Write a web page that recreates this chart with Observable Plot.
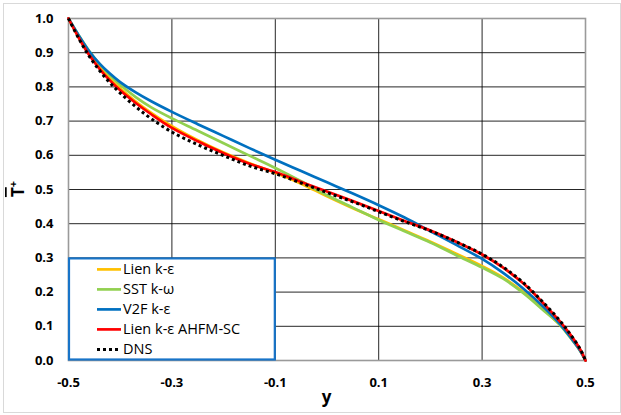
<!DOCTYPE html>
<html><head><meta charset="utf-8">
<script src="https://cdn.jsdelivr.net/npm/d3@7"></script>
<script src="https://cdn.jsdelivr.net/npm/@observablehq/plot@0.6"></script>
<style>
body{margin:0;background:#fff;}
#chart{position:relative;width:621px;height:415px;}
</style>
</head><body><div id="chart"></div>
<script>
// wall-normal position y
const yPos = [-0.5,-0.48,-0.46,-0.44,-0.42,-0.4,-0.37,-0.34,-0.3,-0.25,-0.2,-0.15,-0.1,-0.05,0,0.05,0.1,0.15,0.2,0.25,0.3,0.34,0.38,0.42,0.45,0.47,0.49,0.5];
// mean temperature T+ per model
const lienKE   = [1.0,0.945,0.898,0.858,0.824,0.796,0.757,0.724,0.685,0.644,0.608,0.577,0.549,0.517,0.480,0.445,0.413,0.380,0.347,0.312,0.276,0.243,0.200,0.148,0.105,0.070,0.028,0.0];
const sstKW    = [1.0,0.950,0.905,0.867,0.834,0.806,0.770,0.740,0.708,0.672,0.635,0.599,0.563,0.524,0.483,0.447,0.411,0.378,0.345,0.308,0.272,0.240,0.197,0.145,0.105,0.068,0.028,0.0];
const v2fKE    = [1.0,0.950,0.904,0.868,0.839,0.814,0.784,0.758,0.727,0.691,0.656,0.621,0.587,0.554,0.521,0.488,0.454,0.418,0.378,0.338,0.297,0.257,0.210,0.155,0.108,0.070,0.028,0.0];
const lienAHFM = [1.0,0.943,0.893,0.853,0.819,0.790,0.753,0.720,0.680,0.641,0.606,0.575,0.551,0.522,0.494,0.466,0.437,0.408,0.380,0.347,0.310,0.272,0.225,0.165,0.115,0.077,0.032,0.0];
const dns      = [1.0,0.941,0.890,0.848,0.812,0.782,0.742,0.707,0.668,0.631,0.599,0.569,0.546,0.519,0.491,0.464,0.435,0.406,0.379,0.347,0.311,0.274,0.227,0.167,0.117,0.078,0.033,0.0];

const seriesNames  = ["Lien k-ε","SST k-ω","V2F k-ε","Lien k-ε AHFM-SC","DNS"];
const seriesValues = [lienKE, sstKW, v2fKE, lienAHFM, dns];
const seriesColors = ["#FFC000","#92D050","#0070C0","#FF0000","#000000"];

const xTicks = [-0.5,-0.3,-0.1,0.1,0.3,0.5];
const yTicks = [0,0.1,0.2,0.3,0.4,0.5,0.6,0.7,0.8,0.9,1.0];

const rows = seriesNames.map((name,i)=>yPos.map((y,j)=>({y, T: seriesValues[i][j], series:name})));

const fmt = d => d.toFixed(1);

const lineMarks = rows.map((r,i)=> i===4
  ? Plot.line(r,{x:"y",y:"T",stroke:seriesColors[i],strokeWidth:3,strokeDasharray:"3,3",strokeLinecap:"butt",curve:"catmull-rom"})
  : Plot.line(r,{x:"y",y:"T",stroke:seriesColors[i],strokeWidth:2.7,curve:"catmull-rom"}));

const chart = Plot.plot({
  width:621, height:415,
  marginLeft:68, marginRight:36, marginTop:18, marginBottom:55,
  style:{fontFamily:"'Open Sans', sans-serif", fontSize:"13px", fontWeight:"bold", color:"#000", background:"transparent"},
  x:{domain:[-0.5,0.5]},
  y:{domain:[0,1]},
  marks:[
    Plot.gridX(xTicks.slice(1,-1),{stroke:"#000",strokeOpacity:0.85,strokeWidth:1}),
    Plot.gridY(yTicks.slice(1,-1),{stroke:"#000",strokeOpacity:0.85,strokeWidth:1}),
    Plot.frame({stroke:"#9a9a9a",strokeWidth:1.6}),
    Plot.axisX(xTicks,{tickSize:0,tickPadding:17,tickFormat:fmt,label:null,fill:"#000"}),
    Plot.axisY(yTicks,{tickSize:0,tickPadding:15,tickFormat:fmt,label:null,fill:"#000"}),
    ...lineMarks
  ]
});
document.getElementById("chart").appendChild(chart);

const svg = d3.select(chart);
const sx = chart.scale("x"), sy = chart.scale("y");

// outer chart border
svg.insert("rect",":first-child").attr("x",3.5).attr("y",3.5).attr("width",617).attr("height",409)
  .attr("fill","none").attr("stroke","#d9d9d9").attr("stroke-width",1);

// axis titles
svg.append("text").attr("x",(sx.apply(-0.5)+sx.apply(0.5))/2).attr("y",403)
  .attr("text-anchor","middle").style("font","bold 17px 'Open Sans', sans-serif").attr("fill","#000").text("y");
const yt = svg.append("text").attr("transform",`translate(24,${(sy.apply(0)+sy.apply(1))/2}) rotate(-90)`)
  .attr("text-anchor","middle").style("font","bold 17px 'Open Sans', sans-serif").attr("fill","#000");
yt.append("tspan").style("text-decoration","overline").text("T");
yt.append("tspan").attr("baseline-shift","super").style("font-size","11px").text("+");

// legend box (aligned to the grid)
const lx0 = sx.apply(-0.5), lx1 = sx.apply(-0.1), ly0 = sy.apply(0.3), ly1 = sy.apply(0);
const lg = svg.append("g");
lg.append("rect").attr("x",lx0+1).attr("y",ly0+1).attr("width",lx1-lx0-1).attr("height",ly1-ly0-1.5)
  .attr("fill","#fff").attr("stroke","#1874C8").attr("stroke-width",2.2);
seriesNames.forEach((name,i)=>{
  const yy = ly0 + 12 + i*20;
  lg.append("line").attr("x1",lx0+29).attr("x2",lx0+53).attr("y1",yy).attr("y2",yy)
    .attr("stroke",seriesColors[i]).attr("stroke-width",i===4?3:2.7)
    .attr("stroke-dasharray",i===4?"3,3":null);
  lg.append("text").attr("x",lx0+55).attr("y",yy).attr("dy","0.35em").attr("text-anchor","start")
    .style("font","14.5px 'Open Sans', sans-serif").attr("fill","#000").text(name);
});
</script>
</body></html>
